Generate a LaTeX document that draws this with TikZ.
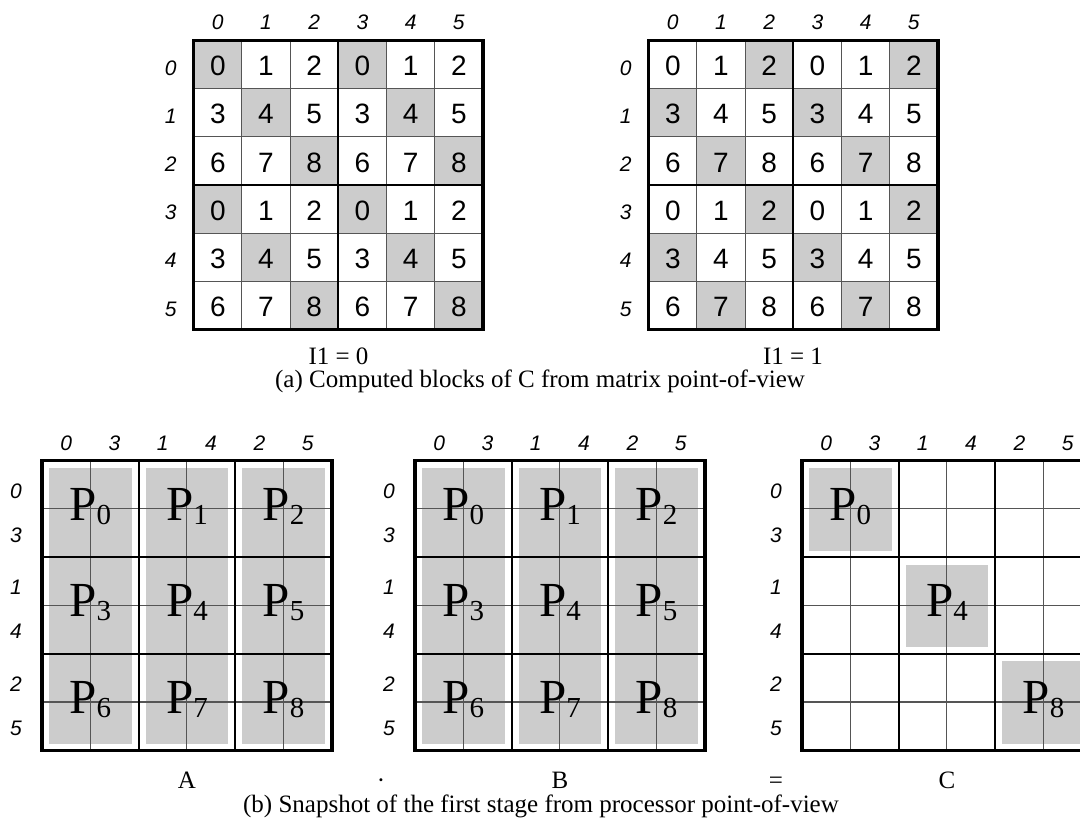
\documentclass[tikz,border=0pt]{standalone}
\usepackage{fontspec}
\setmainfont{Liberation Serif}
\setsansfont{Liberation Sans}
\definecolor{cellgray}{RGB}{204,204,204}
\definecolor{thingray}{RGB}{85,85,85}
\begin{document}
\begin{tikzpicture}[x=1pt,y=-1pt,
  num/.style={font=\sffamily\fontsize{28}{28}\selectfont, inner sep=0pt, anchor=base},
  axislbl/.style={font=\sffamily\itshape\fontsize{21}{21}\selectfont, inner sep=0pt, anchor=base},
  captxt/.style={font=\fontsize{25}{25}\selectfont, inner sep=0pt},
  plbl/.style={font=\fontsize{49}{49}\selectfont, inner sep=0pt, anchor=base},
  thinline/.style={line width=1.1pt, draw=thingray},
  blockline/.style={line width=2pt, draw=black},
  outerline/.style={line width=3.5pt, draw=black},
  graybox/.style={fill=cellgray, draw=none},
]
\useasboundingbox (0,0) rectangle (1080,825);
\clip (0,0) rectangle (1080,825);
\fill[white] (0,0) rectangle (1080,825);
\def\cs{48.2}
% ---------------- top matrices ----------------
\foreach \k/\xo in {0/193.7, 1/648.7} {
  \def\yo{40.5}
  \foreach \r in {0,...,5} {
    \foreach \c in {0,...,5} {
      \pgfmathtruncatemacro\sh{(mod(\c,3)==mod(\r+2*\k,3))}
      \ifnum\sh=1
        \fill[graybox] (\xo+\c*\cs, \yo+\r*\cs) rectangle ++(\cs,\cs);
      \fi
    }
  }
  \foreach \i in {1,2,4,5} {
    \draw[thinline] (\xo+\i*\cs,\yo) -- ++(0,6*\cs);
    \draw[thinline] (\xo,\yo+\i*\cs) -- ++(6*\cs,0);
  }
  \draw[blockline] (\xo+3*\cs,\yo) -- ++(0,6*\cs);
  \draw[blockline] (\xo,\yo+3*\cs) -- ++(6*\cs,0);
  \draw[outerline] (\xo,\yo) rectangle ++(6*\cs,6*\cs);
  \foreach \r in {0,...,5} {
    \foreach \c in {0,...,5} {
      \pgfmathtruncatemacro\v{3*mod(\r,3)+mod(\c,3)}
      \node[num] (m\k-\r-\c) at (\xo+\c*\cs+\cs/2, \yo+\r*\cs+\cs/2+11) {\v};
    }
  }
  \foreach \i in {0,...,5} {
    \node[axislbl] (tc\k-\i) at (\xo+\i*\cs+\cs/2, 29) {\i};
    \node[axislbl] (tr\k-\i) at (\xo-23, \yo+\i*\cs+\cs/2+10.5) {\i};
  }
}
\node[captxt] (iA) at (338.5,356) {I1 = 0};
\node[captxt] (iB) at (793,356) {I1 = 1};
\node[captxt] (capa) at (540,381) {(a) Computed blocks of C from matrix point-of-view};
% ---------------- bottom matrices ----------------
\def\cb{48.3}
\foreach \m/\xo/\full in {A/42/1, B/415/1, C/802/0} {
  \def\yo{460.5}
  \ifnum\full=1
    \foreach \j in {0,1,2} {
      \fill[graybox] (\xo+\j*2*\cb+7, \yo+7.5) rectangle (\xo+\j*2*\cb+2*\cb-7, \yo+6*\cb-6.5);
    }
  \else
    \foreach \j in {0,1,2} {
      \fill[graybox] (\xo+\j*2*\cb+7, \yo+\j*2*\cb+7.5) rectangle (\xo+\j*2*\cb+2*\cb-7, \yo+\j*2*\cb+2*\cb-6.5);
    }
  \fi
  \foreach \i in {1,3,5} {
    \draw[thinline] (\xo+\i*\cb,\yo) -- ++(0,6*\cb);
    \draw[thinline] (\xo,\yo+\i*\cb) -- ++(6*\cb,0);
  }
  \foreach \i in {2,4} {
    \draw[blockline] (\xo+\i*\cb,\yo) -- ++(0,6*\cb);
    \draw[blockline] (\xo,\yo+\i*\cb) -- ++(6*\cb,0);
  }
  \draw[outerline] (\xo,\yo) rectangle ++(6*\cb,6*\cb);
  \foreach \i/\lab in {0/0,1/3,2/1,3/4,4/2,5/5} {
    \node[axislbl] (bc\m-\i) at (\xo+\i*\cb+\cb/2, 450.5) {\lab};
  }
  \foreach \b in {0,1,2} {
    \node[axislbl] (bra\m-\b) at (\xo-26, \yo+\b*2*\cb+37.5) {\pgfmathtruncatemacro\t{\b}\t};
    \node[axislbl] (brb\m-\b) at (\xo-26, \yo+\b*2*\cb+81.5) {\pgfmathtruncatemacro\t{\b+3}\t};
  }
  \foreach \bi in {0,1,2} {
    \foreach \bj in {0,1,2} {
      \pgfmathtruncatemacro\pidx{3*\bi+\bj}
      \pgfmathtruncatemacro\show{(\full==1) || (\bi==\bj)}
      \ifnum\show=1
        \node[plbl] (p\m-\pidx) at (\xo+\bj*2*\cb+\cb, \yo+\bi*2*\cb+59.5) {P\raisebox{-4.3pt}{\fontsize{29}{29}\selectfont\pidx}};
      \fi
    }
  }
}
\node[captxt, anchor=base] (lA) at (187,788) {A};
\node[captxt, anchor=base] (ldot) at (381,788) {·};
\node[captxt, anchor=base] (lB) at (560,788) {B};
\node[captxt, anchor=base] (leq) at (776,788) {=};
\node[captxt, anchor=base] (lC) at (947,788) {C};
\node[captxt] (capb) at (541,806) {(b) Snapshot of the first stage from processor point-of-view};
\end{tikzpicture}
\end{document}
